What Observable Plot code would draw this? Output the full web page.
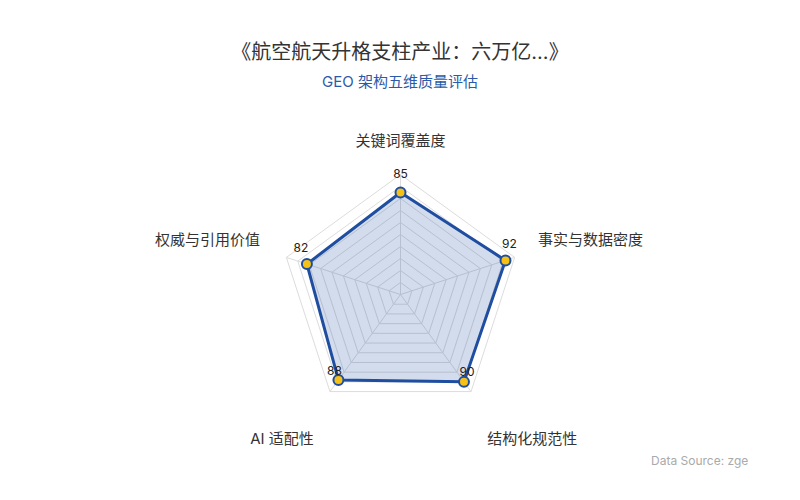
<!DOCTYPE html>
<html>
<head>
<meta charset="utf-8">
<script src="https://cdn.jsdelivr.net/npm/d3@7"></script>
<script src="https://cdn.jsdelivr.net/npm/@observablehq/plot@0.6"></script>
<style>
  html, body { margin: 0; padding: 0; background: #fff; }
  #wrap { position: relative; width: 800px; height: 500px; overflow: hidden; font-family: Inter, "Noto Sans CJK SC", "Noto Sans", sans-serif; }
  #chart { position: absolute; left: 0; top: 0; }
  .title { position: absolute; left: 0; width: 800px; text-align: center; top: 40px; font-size: 20px; line-height: 24px; color: #333; }
  .subtitle { position: absolute; left: 0; width: 800px; text-align: center; top: 73px; font-size: 15px; line-height: 18px; color: #2a5ba8; }
  .source { position: absolute; left: 651px; top: 453px; white-space: nowrap; font-size: 12px; line-height: 16px; color: #aaa; }
</style>
</head>
<body>
<div id="wrap">
  <div id="chart"></div>
  <div class="title">《航空航天升格支柱产业：六万亿...》</div>
  <div class="subtitle">GEO 架构五维质量评估</div>
  <div class="source">Data Source: zge</div>
</div>
<script>
const categories = ["关键词覆盖度", "事实与数据密度", "结构化规范性", "AI 适配性", "权威与引用价值"];
const values = [85, 92, 90, 88, 82];
const gridLevels = [10, 20, 30, 40, 50, 60, 70, 80, 90, 100];
const maxValue = 100;

const n = categories.length;
const ang = i => 2 * Math.PI * i / n;
const px = (v, i) => v * Math.sin(ang(i));
const py = (v, i) => v * Math.cos(ang(i));

// grid polygons
const gridData = [];
for (const lv of gridLevels) {
  for (let k = 0; k <= n; k++) {
    const i = k % n;
    gridData.push({level: lv, x: px(lv, i), y: py(lv, i)});
  }
}
const spokes = categories.map((c, i) => ({x1: 0, y1: 0, x2: px(maxValue, i), y2: py(maxValue, i)}));

const series = values.map((v, i) => ({cat: categories[i], v, i, x: px(v, i), y: py(v, i)}));
const closed = [...series, series[0]];

const labelR = 123;
const labels = categories.map((c, i) => ({cat: c, i, x: px(labelR, i), y: py(labelR, i)}));

const scale = 1.2; // px per unit
const cx = 400, cy = 294;
const W = 800, H = 500;

const blue = "#1f4ea0";
const vfs = 12, lfs = 15;

const plot = Plot.plot({
  width: W, height: H,
  margin: 0,
  x: {domain: [-cx / scale, (W - cx) / scale], axis: null},
  y: {domain: [-(H - cy) / scale, cy / scale], axis: null},
  style: {fontFamily: 'Inter, "Noto Sans CJK SC", sans-serif', background: "transparent"},
  marks: [
    Plot.line(gridData, {x: "x", y: "y", z: "level", stroke: "#dcdcdc", strokeWidth: 1, curve: "linear"}),
    Plot.link(spokes, {x1: "x1", y1: "y1", x2: "x2", y2: "y2", stroke: "#dcdcdc", strokeWidth: 1}),
    Plot.area(closed, {x1: "x", y1: "y", x2: 0, y2: 0, fill: blue, fillOpacity: 0.2, curve: "linear"}),
    Plot.line(closed, {x: "x", y: "y", stroke: blue, strokeWidth: 3, curve: "linear", strokeLinejoin: "round"}),
    Plot.dot(series, {x: "x", y: "y", r: 5, fill: "#f5c116", stroke: blue, strokeWidth: 2}),
    // value labels
    Plot.text(series.filter(d => d.i === 0), {x: "x", y: "y", text: d => String(d.v), dy: -18, fontSize: vfs, fill: "#222"}),
    Plot.text(series.filter(d => d.i === 1), {x: "x", y: "y", text: d => String(d.v), dy: -16, dx: 4, fontSize: vfs, fill: "#222"}),
    Plot.text(series.filter(d => d.i === 4), {x: "x", y: "y", text: d => String(d.v), dy: -16, dx: -6, fontSize: vfs, fill: "#222"}),
    Plot.text(series.filter(d => d.i === 2), {x: "x", y: "y", text: d => String(d.v), dy: -10, dx: 3, fontSize: vfs, fill: "#222"}),
    Plot.text(series.filter(d => d.i === 3), {x: "x", y: "y", text: d => String(d.v), dy: -9, dx: -4, fontSize: vfs, fill: "#222"}),
    // axis names
    Plot.text(labels.filter(d => d.i === 0), {x: "x", y: "y", text: "cat", textAnchor: "middle", dy: -6, fontSize: lfs, fill: "#333"}),
    Plot.text(labels.filter(d => d.i === 1), {x: "x", y: "y", text: "cat", textAnchor: "start", dy: -9, dx: -3, fontSize: lfs, fill: "#333"}),
    Plot.text(labels.filter(d => d.i === 2), {x: "x", y: "y", text: "cat", textAnchor: "start", dy: 25, fontSize: lfs, fill: "#333"}),
    Plot.text(labels.filter(d => d.i === 3), {x: "x", y: "y", text: "cat", textAnchor: "end", dy: 25, fontSize: lfs, fill: "#333"}),
    Plot.text(labels.filter(d => d.i === 4), {x: "x", y: "y", text: "cat", textAnchor: "end", dy: -9, fontSize: lfs, fill: "#333"})
  ]
});
document.getElementById("chart").appendChild(plot);
</script>
</body>
</html>
